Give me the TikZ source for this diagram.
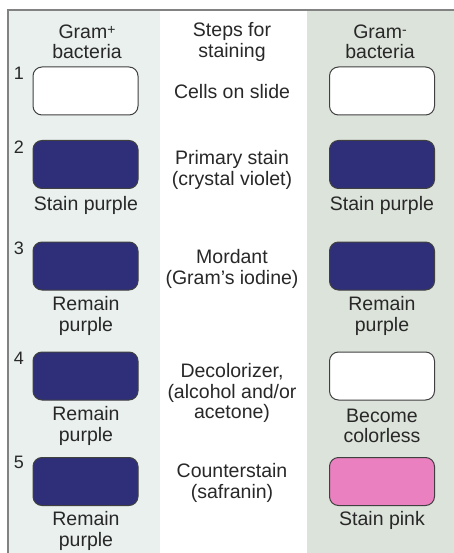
\documentclass[tikz,border=0pt]{standalone}
\usepackage{fontspec}
\setmainfont{Liberation Sans}
\usepackage{tikz}

\definecolor{fondoizq}{RGB}{233,240,237}
\definecolor{fondoder}{RGB}{220,227,218}
\definecolor{morado}{RGB}{46,47,120}
\definecolor{rosa}{RGB}{234,128,192}
\definecolor{texto}{RGB}{40,40,40}
\definecolor{marco}{RGB}{130,130,130}

\newcommand{\carga}[1]{\raisebox{4pt}{\fontsize{14}{14}\selectfont #1}}

\begin{document}
\begin{tikzpicture}[x=1pt, y=-1pt,
    every node/.style={text=texto, font=\fontsize{19.5}{20.5}\selectfont, align=center, inner sep=0pt},
    celda/.style={draw=black!75, line width=1pt, rounded corners=9pt, minimum width=105pt, minimum height=48pt},
    num/.style={font=\fontsize{18}{20}\selectfont}]
            \useasboundingbox (0,0) rectangle (454,553);
            % Fondos
            \fill[white] (0,0) rectangle (454,553);
            \fill[fondoizq] (8,10) rectangle (160,553);
            \fill[fondoder] (307,10) rectangle (454,553);
            \draw[marco, line width=1.6pt] (8,553) -- (8,10) -- (454,10);

            % Cabeceras
            \node (gpos) at (87,42) {Gram\carga{+}\\bacteria};
            \node (pasos) at (232,42) {Steps for\\staining};
            \node (gneg) at (380,42) {Gram\carga{-}\\bacteria};

            % Cajas
            \node[celda, fill=white] (p1) at (85.5,91) {};
            \node[celda, fill=morado] (p2) at (85.5,164.5) {};
            \node[celda, fill=morado] (p3) at (85.5,266) {};
            \node[celda, fill=morado] (p4) at (85.5,376) {};
            \node[celda, fill=morado] (p5) at (85.5,481.5) {};
            \node[celda, fill=white] (n1) at (382,91) {};
            \node[celda, fill=morado] (n2) at (382,164.5) {};
            \node[celda, fill=morado] (n3) at (382,266) {};
            \node[celda, fill=white] (n4) at (382,376) {};
            \node[celda, fill=rosa] (n5) at (382,481.5) {};

            % Numeros
            \node[num] (k1) at (19,73) {1};
            \node[num] (k2) at (19,147) {2};
            \node[num] (k3) at (19,248) {3};
            \node[num] (k4) at (19,358) {4};
            \node[num] (k5) at (19,462) {5};

            % Pasos
            \node (s1) at (232,92) {Cells on slide};
            \node (s2) at (232,170) {Primary stain\\(crystal violet)};
            \node (s3) at (232,269) {Mordant\\(Gram's iodine)};
            \node (s4) at (232,393) {Decolorizer,\\(alcohol and/or\\acetone)};
            \node (s5) at (232,483) {Counterstain\\(safranin)};

            % Resultados
            \node (rp2) at (86,205) {Stain purple};
            \node (rp3) at (86,316) {Remain\\purple};
            \node (rp4) at (86,426) {Remain\\purple};
            \node (rp5) at (86,531) {Remain\\purple};
            \node (rn2) at (382,205) {Stain purple};
            \node (rn3) at (382,316) {Remain\\purple};
            \node (rn4) at (382,426) {Become\\colorless};
            \node (rn5) at (382,520) {Stain pink};
          \end{tikzpicture}
\end{document}
